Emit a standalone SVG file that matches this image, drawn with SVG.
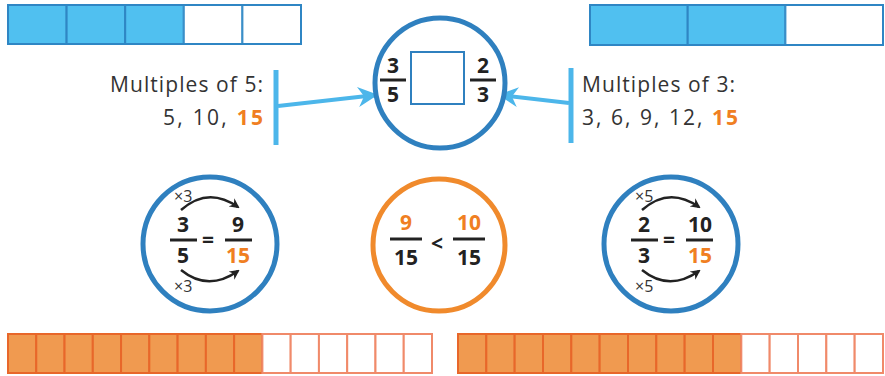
<svg xmlns="http://www.w3.org/2000/svg" width="885" height="376" viewBox="0 0 885 376">
<defs>
<style>
.bf{fill:#50c0f0;stroke:#2f86c4;stroke-width:2}
.be{fill:#fff;stroke:#3a8fc8;stroke-width:2}
.of{fill:#f09a50;stroke:#e8672a;stroke-width:2}
.oe{fill:#fff;stroke:#f08a6a;stroke-width:2}
.cb{fill:#fff;stroke:#2f80bf;stroke-width:5}
.co{fill:#fff;stroke:#f08a2c;stroke-width:5}
.t{font-family:"Open Sans",Lato,sans-serif;font-size:21px;fill:#333}
.n{font-family:"Open Sans",Lato,sans-serif;font-weight:bold;font-size:21px;fill:#222;text-anchor:middle}
.or{fill:#f07f22}
.fl{stroke:#222;stroke-width:3}
.sm{font-family:"Open Sans",Lato,sans-serif;font-size:16px;fill:#333}
.arc{fill:none;stroke:#222;stroke-width:2.5;marker-end:url(#ah)}
.lb{stroke:#4cb6ea;stroke-width:5;fill:none}
.la{stroke:#4cb6ea;stroke-width:4;fill:none;marker-end:url(#ba)}
</style>
<marker id="ah" viewBox="0 0 10 10" refX="8" refY="5" markerWidth="4" markerHeight="4" orient="auto" markerUnits="strokeWidth">
<path d="M0,0 L10,5 L0,10 L3,5 Z" fill="#222"/>
</marker>
<marker id="ba" viewBox="0 0 10 10" refX="9" refY="5" markerWidth="6" markerHeight="5" orient="auto" markerUnits="strokeWidth">
<path d="M0,0 L10,5 L0,10 L3,5 Z" fill="#4cb6ea"/>
</marker>
</defs>

<g id="bar-top-left">
<rect class="bf" x="8" y="5" width="58.6" height="39"/>
<rect class="bf" x="66.6" y="5" width="58.6" height="39"/>
<rect class="bf" x="125.2" y="5" width="58.6" height="39"/>
<rect class="be" x="183.8" y="5" width="58.6" height="39"/>
<rect class="be" x="242.4" y="5" width="58.6" height="39"/>
<rect x="8" y="5" width="293" height="39" fill="none" stroke="#2f86c4" stroke-width="2"/>
</g>

<g id="bar-top-right">
<rect class="bf" x="590" y="5" width="97.7" height="40"/>
<rect class="bf" x="687.7" y="5" width="97.7" height="40"/>
<rect class="be" x="785.4" y="5" width="97.6" height="40"/>
<rect x="590" y="5" width="293" height="40" fill="none" stroke="#2f86c4" stroke-width="2"/>
</g>

<g id="bar-bottom-left">
<rect class="of" x="8" y="334" width="28.27" height="39"/>
<rect class="of" x="36.27" y="334" width="28.27" height="39"/>
<rect class="of" x="64.53" y="334" width="28.27" height="39"/>
<rect class="of" x="92.8" y="334" width="28.27" height="39"/>
<rect class="of" x="121.07" y="334" width="28.27" height="39"/>
<rect class="of" x="149.33" y="334" width="28.27" height="39"/>
<rect class="of" x="177.6" y="334" width="28.27" height="39"/>
<rect class="of" x="205.87" y="334" width="28.27" height="39"/>
<rect class="of" x="234.13" y="334" width="28.27" height="39"/>
<rect class="oe" x="262.4" y="334" width="28.27" height="39"/>
<rect class="oe" x="290.67" y="334" width="28.27" height="39"/>
<rect class="oe" x="318.93" y="334" width="28.27" height="39"/>
<rect class="oe" x="347.2" y="334" width="28.27" height="39"/>
<rect class="oe" x="375.47" y="334" width="28.27" height="39"/>
<rect class="oe" x="403.73" y="334" width="28.27" height="39"/>
</g>

<g id="bar-bottom-right">
<rect class="of" x="458" y="334" width="28.33" height="39"/>
<rect class="of" x="486.33" y="334" width="28.33" height="39"/>
<rect class="of" x="514.67" y="334" width="28.33" height="39"/>
<rect class="of" x="543" y="334" width="28.33" height="39"/>
<rect class="of" x="571.33" y="334" width="28.33" height="39"/>
<rect class="of" x="599.67" y="334" width="28.33" height="39"/>
<rect class="of" x="628" y="334" width="28.33" height="39"/>
<rect class="of" x="656.33" y="334" width="28.33" height="39"/>
<rect class="of" x="684.67" y="334" width="28.33" height="39"/>
<rect class="of" x="713" y="334" width="28.33" height="39"/>
<rect class="oe" x="741.33" y="334" width="28.33" height="39"/>
<rect class="oe" x="769.67" y="334" width="28.33" height="39"/>
<rect class="oe" x="798" y="334" width="28.33" height="39"/>
<rect class="oe" x="826.33" y="334" width="28.33" height="39"/>
<rect class="oe" x="854.67" y="334" width="28.33" height="39"/>
</g>

<g id="multiples-5">
<text class="t" x="110" y="92" textLength="153" lengthAdjust="spacing">Multiples of 5:</text>
<text class="t" x="163" y="125" textLength="100" lengthAdjust="spacing">5, 10, <tspan class="or" font-weight="bold">15</tspan></text>
<line class="lb" x1="276" y1="70" x2="276" y2="145"/>
</g>

<g id="multiples-3">
<text class="t" x="582" y="92" textLength="153" lengthAdjust="spacing">Multiples of 3:</text>
<text class="t" x="582" y="125" textLength="156" lengthAdjust="spacing">3, 6, 9, 12, <tspan class="or" font-weight="bold">15</tspan></text>
<line class="lb" x1="571" y1="68" x2="571" y2="143"/>
</g>

<g id="connectors">
<line class="la" x1="278" y1="106" x2="376" y2="95"/>
<line class="la" x1="569" y1="103" x2="500" y2="95"/>
</g>

<g id="compare-circle">
<circle class="cb" cx="440" cy="83" r="65"/>
<rect x="411" y="52" width="53" height="52" fill="#fff" stroke="#2f80bf" stroke-width="2"/>
<text class="n" x="393" y="73">3</text>
<line class="fl" x1="380" y1="80" x2="406" y2="80"/>
<text class="n" x="393" y="102">5</text>
<text class="n" x="483" y="73">2</text>
<line class="fl" x1="470" y1="80" x2="496" y2="80"/>
<text class="n" x="483" y="102">3</text>
</g>

<g id="equiv-3-5">
<circle class="cb" cx="210" cy="244" r="67"/>
<text class="sm" x="174" y="202">×3</text>
<path class="arc" d="M181,210 Q208,186 238,207"/>
<text class="n" x="183" y="232">3</text>
<line class="fl" x1="170" y1="240" x2="197" y2="240"/>
<text class="n" x="183" y="263">5</text>
<text class="n" x="208" y="247">=</text>
<text class="n" x="238" y="232">9</text>
<line class="fl" x1="225" y1="240" x2="252" y2="240"/>
<text class="n or" x="238" y="263">15</text>
<path class="arc" d="M181,270 Q208,292 238,271"/>
<text class="sm" x="174" y="292">×3</text>
</g>

<g id="compare-15ths">
<circle class="co" cx="439" cy="245" r="66"/>
<text class="n or" x="406" y="230" font-size="22">9</text>
<line class="fl" x1="390" y1="239" x2="422" y2="239"/>
<text class="n" x="406" y="265" font-size="22">15</text>
<text class="n" x="437" y="251" font-size="22">&lt;</text>
<text class="n or" x="469" y="230" font-size="22">10</text>
<line class="fl" x1="453" y1="239" x2="485" y2="239"/>
<text class="n" x="469" y="265" font-size="22">15</text>
</g>

<g id="equiv-2-3">
<circle class="cb" cx="671" cy="244" r="67"/>
<text class="sm" x="635" y="202">×5</text>
<path class="arc" d="M642,210 Q669,186 699,207"/>
<text class="n" x="644" y="232">2</text>
<line class="fl" x1="631" y1="240" x2="658" y2="240"/>
<text class="n" x="644" y="263">3</text>
<text class="n" x="669" y="247">=</text>
<text class="n" x="700" y="232">10</text>
<line class="fl" x1="686" y1="240" x2="713" y2="240"/>
<text class="n or" x="700" y="263">15</text>
<path class="arc" d="M642,270 Q669,292 699,271"/>
<text class="sm" x="635" y="292">×5</text>
</g>
</svg>
